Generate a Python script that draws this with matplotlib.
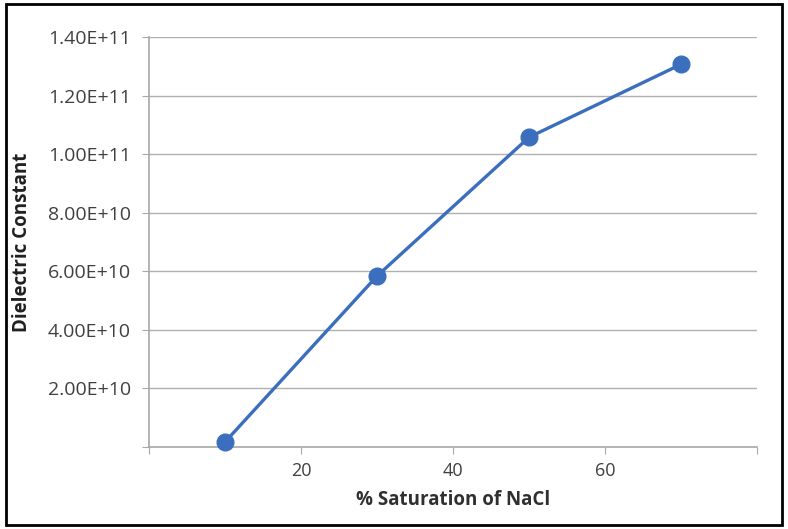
import matplotlib
matplotlib.use("Agg")
import matplotlib.pyplot as plt
from matplotlib.patches import Rectangle

# data
saturation = [10, 30, 50, 70]
dielectric = [1.7e9, 5.84e10, 1.058e11, 1.307e11]
y_ticks = [2e10, 4e10, 6e10, 8e10, 1e11, 1.2e11, 1.4e11]
y_labels = ["2.00E+10", "4.00E+10", "6.00E+10", "8.00E+10", "1.00E+11", "1.20E+11", "1.40E+11"]
x_ticks = [20, 40, 60]

plt.rcParams['font.family'] = ['Open Sans', 'DejaVu Sans']

fig = plt.figure(figsize=(7.88, 5.29), dpi=100)
ax = fig.add_axes([0.189, 0.155, 0.772, 0.775])

ax.plot(saturation, dielectric, color='#3b6fbd', lw=2.4, marker='o',
        markersize=12, markerfacecolor='#3b6fbd', markeredgecolor='#3b6fbd',
        zorder=3, clip_on=False)

ax.set_xlim(0, 80)
ax.set_ylim(0, 1.4e11)
ax.set_yticks([0] + y_ticks, labels=[""] + y_labels)
ax.set_xticks([0] + x_ticks + [80], labels=[""] + [str(v) for v in x_ticks] + [""])

ax.grid(axis='y', color='#b0b0b0', lw=1)
ax.set_axisbelow(True)
for s in ['top', 'right']:
    ax.spines[s].set_visible(False)
for s in ['left', 'bottom']:
    ax.spines[s].set_color('#a8a8a8')
    ax.spines[s].set_linewidth(1.2)
ax.tick_params(axis='both', colors='#a8a8a8', labelcolor='#404040', length=5)
ax.tick_params(axis='y', labelsize=14, pad=8)
ax.tick_params(axis='x', labelsize=13, pad=6)

ax.set_xlabel('% Saturation of NaCl', fontsize=13.5, fontweight='bold', color='#303030')
ax.set_ylabel('Dielectric Constant', fontsize=13.5, fontweight='bold', color='#202020')
ax.yaxis.set_label_coords(-0.192, 0.5)
ax.xaxis.set_label_coords(0.5, -0.105)

# outer frame
fig.patches.append(Rectangle((0.008, 0.008), 0.984, 0.984, transform=fig.transFigure,
                             fill=False, edgecolor='black', lw=2))

fig.savefig('out.png', dpi=100)
